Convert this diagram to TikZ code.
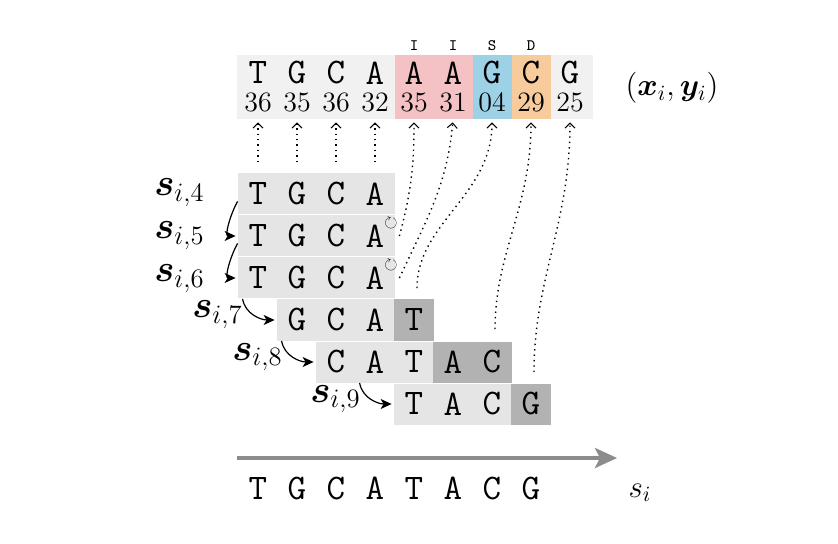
\RequirePackage{fix-cm}
\documentclass[tikz,border=0pt]{standalone}
\usepackage{amsmath,amssymb,bm}
\usetikzlibrary{arrows.meta}
\definecolor{topgray}{RGB}{241,241,241}
\definecolor{rowgray}{RGB}{229,229,229}
\definecolor{matchgray}{RGB}{178,178,178}
\definecolor{inspink}{RGB}{244,194,196}
\definecolor{subblue}{RGB}{157,209,230}
\definecolor{delorange}{RGB}{247,203,155}
\definecolor{axisgray}{RGB}{140,140,140}
\newcommand{\basefont}{\fontsize{18}{18}\selectfont\ttfamily}
\newcommand{\qualfont}{\fontsize{14}{14}\selectfont}
\newcommand{\opfont}{\fontsize{8}{8}\selectfont\ttfamily}
\newcommand{\labfont}{\fontsize{19}{22}\selectfont}
\newcommand{\varfont}{\fontsize{15.5}{18}\selectfont}
\begin{document}
\begin{tikzpicture}[x=0.5pt,y=0.5pt,
  topcell/.style={minimum width=19.5pt, minimum height=32pt, inner sep=0pt},
  basech/.style={font=\basefont, inner sep=0pt},
  qual/.style={font=\qualfont, inner sep=0pt},
  opch/.style={font=\opfont, inner sep=0pt},
  cell/.style={minimum width=20pt, minimum height=20.5pt, inner sep=0pt, font=\basefont, fill=rowgray},
  hit/.style={cell, fill=matchgray},
  lab/.style={font=\labfont, inner sep=0pt, anchor=base east},
  rot/.style={font=\fontsize{8.5}{8.5}\selectfont, inner sep=0pt},
  dotlink/.style={dotted, line width=0.7pt, shorten >=1.5pt, -{Straight Barb[length=2.5pt,width=5pt,line width=0.5pt]}},
  hop/.style={line width=0.6pt, shorten >=1pt, -{Stealth[length=5.5pt,width=5pt,inset=1.5pt]}},
  seqaxis/.style={draw=axisgray, line width=2pt, -{Stealth[length=11pt,width=10pt,inset=2.5pt]}}]
\useasboundingbox (0,0) rectangle (838,-544);
% observed pair
\fill[topgray] (237,-55) rectangle (593,-119);
\node[topcell] (tc1) at (258,-87){};
\node[topcell] (tc2) at (297,-87){};
\node[topcell] (tc3) at (336,-87){};
\node[topcell] (tc4) at (375,-87){};
\node[topcell, fill=inspink] (tc5) at (414,-87){};
\node[topcell, fill=inspink] (tc6) at (453,-87){};
\node[topcell, fill=subblue] (tc7) at (492,-87){};
\node[topcell, fill=delorange] (tc8) at (531,-87){};
\node[topcell] (tc9) at (570,-87){};
\node[basech] (tl1) at (258,-73){T};
\node[basech] (tl2) at (297,-73){G};
\node[basech] (tl3) at (336,-73){C};
\node[basech] (tl4) at (375,-73){A};
\node[basech] (tl5) at (414,-73){A};
\node[basech] (tl6) at (453,-73){A};
\node[basech] (tl7) at (492,-73){G};
\node[basech] (tl8) at (531,-73){C};
\node[basech] (tl9) at (570,-73){G};
\node[qual] (tn1) at (258,-102){36};
\node[qual] (tn2) at (297,-102){35};
\node[qual] (tn3) at (336,-102){36};
\node[qual] (tn4) at (375,-102){32};
\node[qual] (tn5) at (414,-102){35};
\node[qual] (tn6) at (453,-102){31};
\node[qual] (tn7) at (492,-102){04};
\node[qual] (tn8) at (531,-102){29};
\node[qual] (tn9) at (570,-102){25};
\node[opch] (op5) at (414,-46){I};
\node[opch] (op6) at (453,-46){I};
\node[opch] (op7) at (492,-46){S};
\node[opch] (op8) at (531,-46){D};
\node[font=\varfont, anchor=base] (xy) at (672,-96){$(\bm{x}_i,\bm{y}_i)$};
% states
\node[cell] (r4c1) at (258,-194){T};
\node[cell] (r4c2) at (297,-194){G};
\node[cell] (r4c3) at (336,-194){C};
\node[cell] (r4c4) at (375,-194){A};
\node[cell] (r5c1) at (258,-236){T};
\node[cell] (r5c2) at (297,-236){G};
\node[cell] (r5c3) at (336,-236){C};
\node[cell] (r5c4) at (375,-236){A};
\node[cell] (r6c1) at (258,-278){T};
\node[cell] (r6c2) at (297,-278){G};
\node[cell] (r6c3) at (336,-278){C};
\node[cell] (r6c4) at (375,-278){A};
\node[cell] (r7c1) at (297,-320){G};
\node[cell] (r7c2) at (336,-320){C};
\node[cell] (r7c3) at (375,-320){A};
\node[hit] (r7c4) at (414,-320){T};
\node[cell] (r8c1) at (336,-362){C};
\node[cell] (r8c2) at (375,-362){A};
\node[cell] (r8c3) at (414,-362){T};
\node[hit] (r8c4) at (453,-362){A};
\node[hit] (r8c5) at (492,-362){C};
\node[cell] (r9c1) at (414,-404){T};
\node[cell] (r9c2) at (453,-404){A};
\node[cell] (r9c3) at (492,-404){C};
\node[hit] (r9c4) at (531,-404){G};
\node[rot] (rot5) at (391,-223){$\circlearrowright$};
\node[rot] (rot6) at (391,-265){$\circlearrowright$};
\node[lab] (l4) at (205,-196){$\bm{s}_{i,4}$};
\node[lab] (l5) at (205,-239){$\bm{s}_{i,5}$};
\node[lab] (l6) at (205,-282){$\bm{s}_{i,6}$};
\node[lab] (l7) at (243,-318){$\bm{s}_{i,7}$};
\node[lab] (l8) at (283,-360){$\bm{s}_{i,8}$};
\node[lab] (l9) at (361,-402){$\bm{s}_{i,9}$};
\draw[hop] (r4c1.-160) to[out=-120,in=180] (r5c1.west);
\draw[hop] (r5c1.-160) to[out=-120,in=180] (r6c1.west);
\draw[hop] ([xshift=2.5pt]r6c1.south west) to[out=-80,in=180] (r7c1.west);
\draw[hop] ([xshift=2.5pt]r7c1.south west) to[out=-80,in=180] (r8c1.west);
\draw[hop] ([xshift=2.5pt]r8c2.south west) to[out=-80,in=180] (r9c1.west);
% alignment
\coordinate (d1) at (258,-162);
\coordinate (d2) at (297,-162);
\coordinate (d3) at (336,-162);
\coordinate (d4) at (375,-162);
\draw[dotlink] (d1) -- (tc1.south);
\draw[dotlink] (d2) -- (tc2.south);
\draw[dotlink] (d3) -- (tc3.south);
\draw[dotlink] (d4) -- (tc4.south);
\draw[dotlink] ([xshift=2pt]r5c4.east) to[out=75,in=-90] (tc5.south);
\draw[dotlink] ([xshift=2pt]r6c4.east) to[out=65,in=-95] (tc6.south);
\draw[dotlink, shorten <=5.5pt] ([xshift=1.5pt]r7c4.north) to[out=90,in=-90] (tc7.south);
\draw[dotlink, shorten <=6pt] ([xshift=1.5pt]r8c5.north) to[out=90,in=-90] (tc8.south);
\draw[dotlink, shorten <=5.5pt] ([xshift=1.5pt]r9c4.north) to[out=90,in=-90] (tc9.south);
% read
\coordinate (ax0) at (237,-458);
\coordinate (ax1) at (617,-458);
\draw[seqaxis] (ax0) -- (ax1);
\node[basech] (b1) at (258,-488){T};
\node[basech] (b2) at (297,-488){G};
\node[basech] (b3) at (336,-488){C};
\node[basech] (b4) at (375,-488){A};
\node[basech] (b5) at (414,-488){T};
\node[basech] (b6) at (453,-488){A};
\node[basech] (b7) at (492,-488){C};
\node[basech] (b8) at (531,-488){G};
\node[font=\varfont, anchor=base] (si) at (640,-497){$s_i$};
\end{tikzpicture}
\end{document}
